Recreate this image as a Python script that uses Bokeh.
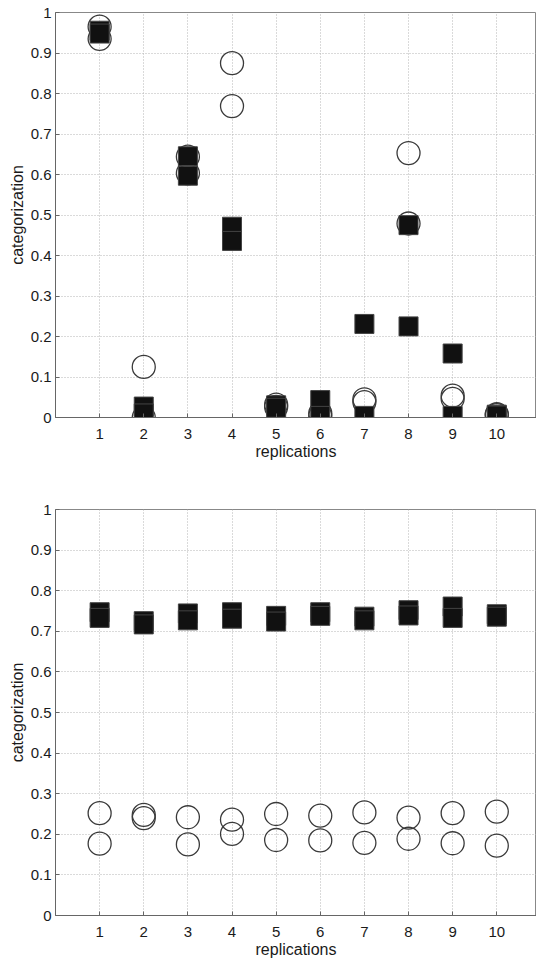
from bokeh.plotting import figure
from bokeh.layouts import column
from bokeh.models import FixedTicker, CustomJSTickFormatter, Range1d
from bokeh.embed import file_html
from bokeh.resources import INLINE

# ---- data ----
replications = [1, 2, 3, 4, 5, 6, 7, 8, 9, 10]
y_ticks = [0, 0.1, 0.2, 0.3, 0.4, 0.5, 0.6, 0.7, 0.8, 0.9, 1]

top_squares_a = [0.955, 0.027, 0.645, 0.471, 0.030, 0.043, 0.231, 0.475, 0.158, 0.007]
top_squares_b = [0.948, 0.010, 0.597, 0.436, 0.024, 0.004, 0.004, 0.225, 0.004, 0.005]
top_circles_a = [0.965, 0.125, 0.644, 0.875, 0.032, 0.010, 0.045, 0.653, 0.054, 0.008]
top_circles_b = [0.935, 0.000, 0.603, 0.769, 0.026, 0.004, 0.038, 0.479, 0.046, 0.006]

bot_squares_a = [0.747, 0.725, 0.744, 0.747, 0.738, 0.747, 0.736, 0.752, 0.761, 0.742]
bot_squares_b = [0.733, 0.717, 0.727, 0.731, 0.724, 0.738, 0.727, 0.739, 0.733, 0.736]
bot_circles_a = [0.252, 0.248, 0.242, 0.236, 0.250, 0.246, 0.254, 0.241, 0.252, 0.256]
bot_circles_b = [0.177, 0.240, 0.175, 0.201, 0.186, 0.185, 0.179, 0.189, 0.178, 0.172]

FONT = "Liberation Sans"
TEXT = "#1a1a1a"


def make_fig(height, border_top, border_bottom, sq_a, sq_b, ci_a, ci_b):
    p = figure(width=536, height=height,
               x_range=Range1d(0, 10.9), y_range=Range1d(0, 1),
               output_backend="svg", toolbar_location=None,
               min_border_left=55, min_border_right=0,
               min_border_top=border_top, min_border_bottom=border_bottom,
               background_fill_color="white", border_fill_color="white")
    p.outline_line_color = "#888888"
    p.outline_line_width = 1

    # circles first, squares drawn on top
    for ys in (ci_a, ci_b):
        p.scatter(replications, ys, marker="circle", size=23,
                  fill_color=None, line_color="#3a3a3a", line_width=1.3)
    for ys in (sq_a, sq_b):
        p.scatter(replications, ys, marker="square", size=19,
                  fill_color="#111111", line_color="#444444", line_width=1)

    xt = FixedTicker(ticks=replications)
    yt = FixedTicker(ticks=y_ticks)
    fmt = CustomJSTickFormatter(code="return Number(tick.toFixed(2)).toString();")

    p.xaxis.ticker = xt
    p.yaxis.ticker = yt
    p.yaxis.formatter = fmt
    p.xgrid.ticker = xt
    p.ygrid.ticker = yt

    for ax in (p.xaxis[0], p.yaxis[0]):
        ax.axis_line_color = "#666666"
        ax.major_tick_in = 4
        ax.major_tick_out = 0
        ax.major_tick_line_color = "#666666"
        ax.minor_tick_line_color = None
        ax.major_label_text_font = FONT
        ax.major_label_text_font_size = "15px"
        ax.major_label_text_color = TEXT
        ax.axis_label_text_font = FONT
        ax.axis_label_text_font_size = "16px"
        ax.axis_label_text_font_style = "normal"
        ax.axis_label_text_color = TEXT

    p.xaxis.axis_label = "replications"
    p.yaxis.axis_label = "categorization"
    p.xaxis.major_label_standoff = 11
    p.xaxis.axis_label_standoff = 1
    p.yaxis.major_label_standoff = 4
    p.yaxis.axis_label_standoff = 2

    for g in (p.xgrid[0], p.ygrid[0]):
        g.grid_line_color = "#b4b4b4"
        g.grid_line_dash = "1 2"
        g.grid_line_width = 1
    return p


p1 = make_fig(466, 12, 49, top_squares_a, top_squares_b, top_circles_a, top_circles_b)
p2 = make_fig(495, 43, 46, bot_squares_a, bot_squares_b, bot_circles_a, bot_circles_b)

layout = column(p1, p2, spacing=0)
open("out.html", "w").write(file_html(layout, INLINE))
